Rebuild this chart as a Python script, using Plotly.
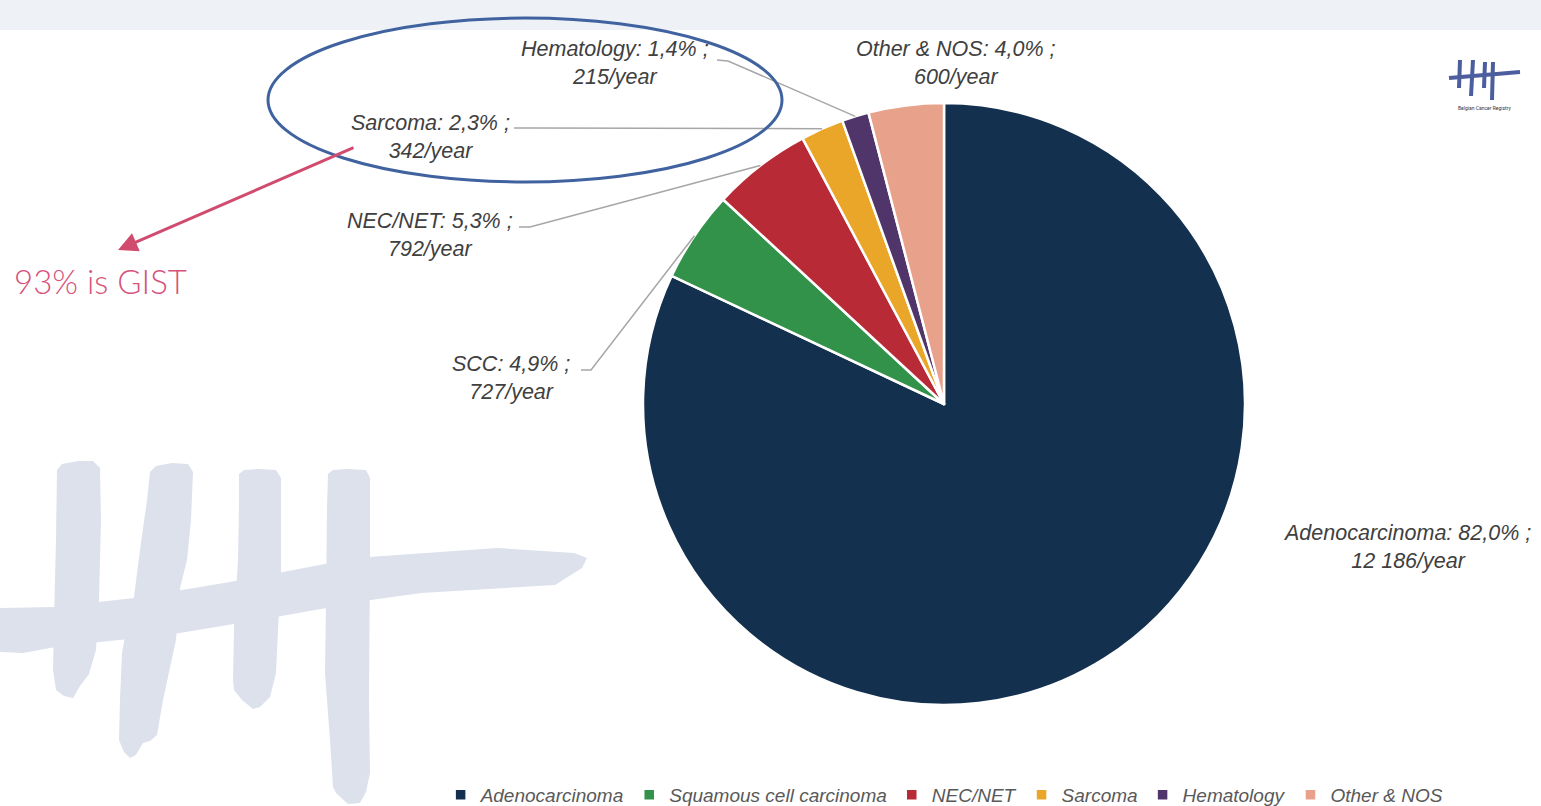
import math

import plotly.graph_objects as go

W, H = 1541, 806

# data
categories = ["Adenocarcinoma", "Squamous cell carcinoma", "NEC/NET", "Sarcoma", "Hematology", "Other & NOS"]
short_labels = ["Adenocarcinoma", "SCC", "NEC/NET", "Sarcoma", "Hematology", "Other & NOS"]
cases_per_year = [12186, 727, 792, 342, 215, 600]
colors = ["#14304F", "#33924A", "#B82A35", "#EAA629", "#4F3569", "#E8A18A"]

# pie geometry (pixels)
PIE_CX, PIE_CY, PIE_R = 944, 404, 301

# label block centres and where their leader line starts (pixels)
label_pos = {
    "Adenocarcinoma": (1407, 547),
    "SCC": (511, 378),
    "NEC/NET": (430, 235),
    "Sarcoma": (430, 137),
    "Hematology": (615, 63),
    "Other & NOS": (956, 63),
}
leader_start = {
    "SCC": [(581, 370), (591, 370)],
    "NEC/NET": [(519, 227), (530, 227)],
    "Sarcoma": [(514, 128), (530, 128)],
    "Hematology": [(717, 60), (728, 61)],
}


def px(x):
    return x / W


def py(y):
    return 1 - y / H


def path(points, close=True):
    s = "M " + " L ".join(f"{px(x):.5f},{py(y):.5f}" for x, y in points)
    return s + (" Z" if close else "")


def fmt_label(name, value, total):
    pct = f"{100 * value / total:.1f}".replace(".", ",")
    val = f"{value:,}".replace(",", " ")
    return f"{name}: {pct}% ;<br>{val}/year"


total = sum(cases_per_year)

fig = go.Figure()

fig.add_trace(go.Pie(
    labels=categories,
    values=cases_per_year,
    sort=False,
    direction="clockwise",
    rotation=0,
    marker=dict(colors=colors, line=dict(color="white", width=2.5)),
    textinfo="none",
    hoverinfo="label+value+percent",
    domain=dict(
        x=[px(PIE_CX - PIE_R), px(PIE_CX + PIE_R)],
        y=[py(PIE_CY + PIE_R), py(PIE_CY - PIE_R)],
    ),
))

shapes = []

# top band
shapes.append(dict(type="rect", xref="paper", yref="paper", x0=0, x1=1, y0=py(30), y1=1,
                   fillcolor="#EEF1F6", line=dict(width=0), layer="below"))

# watermark logo
wm = "#DCE1EC"
wm_paths = [
    [(57, 470), (62, 464), (78, 461), (93, 461), (100, 468), (101, 520), (99, 600), (96, 650),
     (89, 674), (80, 686), (73, 698), (64, 696), (56, 690), (53, 670), (54, 620), (56, 540)],
    [(150, 472), (156, 466), (172, 463), (188, 464), (193, 472), (191, 520), (187, 560), (180, 588),
     (176, 640), (163, 700), (157, 735), (150, 741), (143, 743), (136, 755), (130, 758), (124, 752),
     (119, 740), (120, 700), (122, 653), (128, 620), (134, 597), (140, 550), (147, 500)],
    [(239, 474), (244, 470), (258, 469), (276, 470), (281, 478), (281, 573), (278, 630), (276, 673),
     (270, 697), (260, 707), (253, 709), (242, 700), (234, 690), (233, 680), (234, 627), (238, 560),
     (239, 507)],
    [(328, 474), (333, 470), (348, 469), (366, 470), (370, 478), (370, 560), (369, 700), (370, 773),
     (366, 792), (360, 803), (348, 804), (336, 793), (333, 787), (330, 740), (325, 673), (326, 600),
     (327, 507)],
    [(0, 608), (54, 607), (134, 598), (230, 582), (325, 564), (369, 557), (497, 548), (574, 553),
     (587, 558), (582, 568), (574, 573), (555, 585), (421, 593), (371, 600), (276, 617), (168, 635),
     (90, 643), (50, 648), (23, 653), (0, 652)],
]
for pts in wm_paths:
    shapes.append(dict(type="path", xref="paper", yref="paper", path=path(pts),
                       fillcolor=wm, line=dict(width=0), layer="below"))

# small logo, top right
lg = "#4C5E9E"
for (x0, y0, x1, y1) in [(1460, 60, 1459, 88), (1473, 60, 1471, 96), (1485, 62, 1484, 88),
                         (1493, 62, 1492, 100), (1449, 78, 1520, 72)]:
    shapes.append(dict(type="line", xref="paper", yref="paper", x0=px(x0), y0=py(y0),
                       x1=px(x1), y1=py(y1), line=dict(color=lg, width=4)))

# leader lines to the middle of each slice's outer edge
cum = 0
for name, v in zip(short_labels, cases_per_year):
    mid = (cum + v / 2) / total * 2 * math.pi
    cum += v
    if name not in leader_start:
        continue
    anchor = (PIE_CX + PIE_R * math.sin(mid), PIE_CY - PIE_R * math.cos(mid))
    shapes.append(dict(type="path", xref="paper", yref="paper",
                       path=path(leader_start[name] + [anchor], close=False),
                       line=dict(color="#A6A6A6", width=1.5)))

# ellipse round the small groups
shapes.append(dict(type="circle", xref="paper", yref="paper",
                   x0=px(268), x1=px(782), y0=py(182), y1=py(18),
                   line=dict(color="#4063A0", width=3)))

annotations = []
for name, v in zip(short_labels, cases_per_year):
    cx, cy = label_pos[name]
    annotations.append(dict(
        x=px(cx), y=py(cy), xref="paper", yref="paper",
        text=fmt_label(name, v, total), showarrow=False,
        xanchor="center", yanchor="middle", align="center",
        font=dict(family="Liberation Sans", size=21.5, color="#404040", style="italic"),
    ))

# GIST callout
annotations.append(dict(
    x=px(118), y=py(250), xref="paper", yref="paper",
    ax=355 - 118, ay=147 - 250, text="", showarrow=True,
    arrowhead=2, arrowsize=1.3, arrowwidth=3, arrowcolor="#D14B6F",
))
annotations.append(dict(
    x=px(12), y=py(281), xref="paper", yref="paper",
    text="93% is GIST", showarrow=False, xanchor="left", yanchor="middle",
    font=dict(family="Lato", size=33, color="#D6527A", weight=300),
))
annotations.append(dict(
    x=px(1484), y=py(108), xref="paper", yref="paper",
    text="Belgian Cancer Registry", showarrow=False, xanchor="center", yanchor="middle",
    font=dict(family="Roboto", size=5, color="#333333"),
))

fig.update_layout(
    width=W,
    height=H,
    margin=dict(l=0, r=0, t=0, b=0, autoexpand=False),
    paper_bgcolor="white",
    plot_bgcolor="white",
    shapes=shapes,
    annotations=annotations,
    showlegend=True,
    legend=dict(
        orientation="h",
        x=0.613, xanchor="center",
        y=py(795), yanchor="middle",
        font=dict(family="Liberation Sans", size=19, color="#595959", style="italic"),
        bgcolor="rgba(0,0,0,0)",
        traceorder="normal",
    ),
)

fig.write_html("out.html", config={"displayModeBar": False},
               post_script="document.body.style.margin='0';")
